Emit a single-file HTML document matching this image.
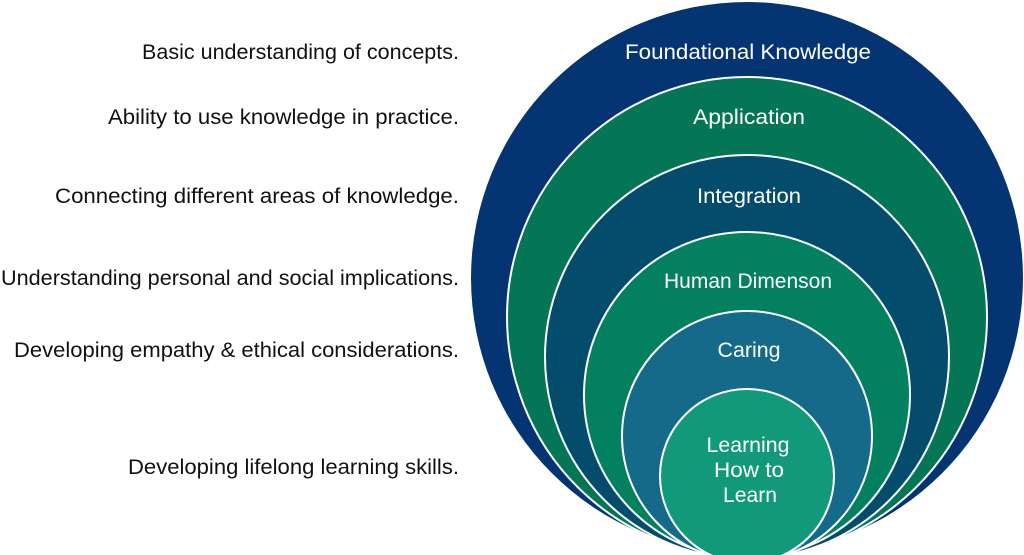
<!DOCTYPE html>
<html><head><meta charset="utf-8"><style>
html,body{margin:0;padding:0;background:#fff;width:1024px;height:555px;overflow:hidden}
svg{display:block}
text{font-family:"Liberation Sans",sans-serif;font-size:21px}
</style></head><body>
<svg width="1024" height="555" viewBox="0 0 1024 555">
<circle cx="747" cy="278" r="276" fill="#043472"/>
<circle cx="747" cy="317" r="240" fill="#047655" stroke="#fff" stroke-width="2"/>
<circle cx="747" cy="357" r="202" fill="#044c6c" stroke="#fff" stroke-width="2"/>
<circle cx="747" cy="395" r="163" fill="#038060" stroke="#fff" stroke-width="2"/>
<circle cx="747" cy="436" r="125" fill="#146a88" stroke="#fff" stroke-width="2"/>
<circle cx="747" cy="476" r="87" fill="#12997a" stroke="#fff" stroke-width="2"/>
<g fill="#fff" text-anchor="middle">
<text x="748" y="59" textLength="246" lengthAdjust="spacingAndGlyphs">Foundational Knowledge</text>
<text x="749" y="124" textLength="112" lengthAdjust="spacingAndGlyphs">Application</text>
<text x="749" y="203" textLength="104" lengthAdjust="spacingAndGlyphs">Integration</text>
<text x="748" y="288" textLength="168" lengthAdjust="spacingAndGlyphs">Human Dimenson</text>
<text x="749" y="357" textLength="63" lengthAdjust="spacingAndGlyphs">Caring</text>
<text x="748" y="452" textLength="83" lengthAdjust="spacingAndGlyphs">Learning</text>
<text x="749" y="477" textLength="70" lengthAdjust="spacingAndGlyphs">How to</text>
<text x="750" y="502" textLength="54" lengthAdjust="spacingAndGlyphs">Learn</text>
</g>
<g fill="#111" text-anchor="end" style="font-size:20.5px">
<text x="459" y="59" textLength="317" lengthAdjust="spacingAndGlyphs">Basic understanding of concepts.</text>
<text x="459" y="124" textLength="351" lengthAdjust="spacingAndGlyphs">Ability to use knowledge in practice.</text>
<text x="459" y="203" textLength="404" lengthAdjust="spacingAndGlyphs">Connecting different areas of knowledge.</text>
<text x="459" y="285" textLength="458" lengthAdjust="spacingAndGlyphs">Understanding personal and social implications.</text>
<text x="459" y="357" textLength="445" lengthAdjust="spacingAndGlyphs">Developing empathy &amp; ethical considerations.</text>
<text x="459" y="474" textLength="331" lengthAdjust="spacingAndGlyphs">Developing lifelong learning skills.</text>
</g>
</svg>
</body></html>
